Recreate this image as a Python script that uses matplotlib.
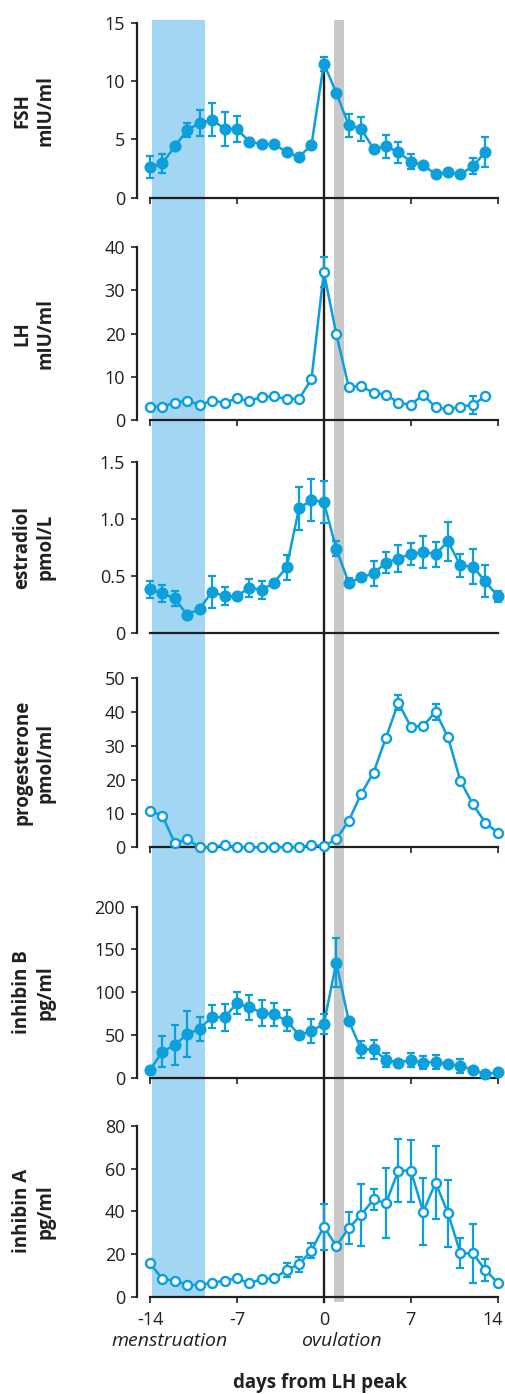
import matplotlib
matplotlib.use("Agg")
import matplotlib.pyplot as plt
import matplotlib.transforms as mtransforms

plt.rcParams['font.family'] = ['Open Sans', 'DejaVu Sans']

# jours depuis le pic de LH
days28 = list(range(-14, 14))
days29 = list(range(-14, 15))

fsh = [2.6, 2.95, 4.4, 5.8, 6.4, 6.7, 5.9, 5.9, 4.8, 4.6, 4.6, 3.9, 3.5, 4.5,
       11.5, 9.0, 6.2, 5.9, 4.2, 4.4, 3.9, 3.1, 2.8, 2.0, 2.2, 2.0, 2.7, 3.9]
fsh_err = [0.95, 0.8, 0, 0.6, 1.1, 1.45, 1.45, 1.1, 0.3, 0, 0, 0, 0, 0,
           0.6, 0, 1.0, 1.0, 0, 1.0, 0.9, 0.65, 0, 0, 0, 0, 0.7, 1.3]

lh = [3.1, 3.1, 4.0, 4.5, 3.5, 4.5, 4.0, 5.0, 4.4, 5.4, 5.5, 4.9, 4.9, 9.4,
      34.3, 19.9, 7.7, 7.8, 6.3, 5.9, 4.0, 3.5, 5.9, 2.9, 2.5, 3.1, 3.5, 5.5]
lh_err = [0, 0, 0, 0, 0, 0, 0, 0, 0, 0, 0, 0, 0, 0,
          3.4, 0, 0, 0, 0, 0, 0, 0, 0, 0, 0, 0, 2.0, 0]

e2 = [0.38, 0.345, 0.30, 0.155, 0.21, 0.36, 0.32, 0.32, 0.395, 0.375, 0.44,
      0.575, 1.09, 1.165, 1.145, 0.735, 0.44, 0.485, 0.52, 0.615, 0.65, 0.69,
      0.71, 0.69, 0.80, 0.59, 0.58, 0.45, 0.32]
e2_err = [0.075, 0.075, 0.07, 0, 0, 0.14, 0.08, 0, 0.08, 0.08, 0,
          0.11, 0.185, 0.185, 0.185, 0.065, 0.04, 0, 0.11, 0.09, 0.12, 0.1,
          0.14, 0.11, 0.175, 0.1, 0.15, 0.14, 0.05]

prog = [10.8, 9.3, 1.2, 2.4, 0.0, 0.0, 0.7, 0.0, 0.0, 0.0, 0.0, 0.0, 0.0,
        0.7, 0.4, 2.4, 7.8, 15.8, 22.1, 32.4, 42.8, 35.7, 35.9, 40.1, 32.5,
        19.6, 12.7, 7.3, 4.3]
prog_err = [0, 0, 0, 0, 0, 0, 0, 0, 0, 0, 0, 0, 0,
            0, 0, 0, 0, 0, 0, 0, 2.2, 0, 0, 2.4, 0,
            0, 0, 0, 0]

inhb = [9.0, 30.4, 38.2, 51.1, 57.0, 71.4, 70.6, 87.0, 82.3, 76.0, 74.1, 66.7,
        50.0, 54.6, 62.8, 134.5, 66.7, 33.2, 33.2, 20.7, 17.6, 20.7, 17.6,
        18.7, 15.6, 14.0, 9.0, 4.3, 6.3]
inhb_err = [0, 18, 23, 27, 13.5, 13.6, 16, 13, 14.6, 15, 13.5, 12.5,
            0, 14.5, 11.7, 29, 0, 10, 11, 8, 0, 8, 8,
            8, 0, 8, 0, 0, 0]

inha = [15.6, 8.3, 7.5, 5.5, 5.5, 6.6, 7.5, 8.6, 6.3, 8.3, 8.6, 12.5, 15.2,
        21.6, 32.8, 23.8, 32.1, 38.3, 45.6, 43.8, 59.1, 59.1, 39.8, 53.4, 39.1,
        20.3, 20.3, 12.5, 6.6]
inha_err = [0, 0, 0, 0, 0, 0, 0, 0, 0, 0, 0, 3.4, 3.6,
            3.6, 10.7, 0, 7.5, 14.7, 4.9, 16.5, 14.8, 14.5, 15.7, 17, 15.6,
            7, 13.7, 5.3, 0]

labels = ['FSH\nmIU/ml', 'LH\nmIU/ml', 'estradiol\npmol/L',
          'progesterone\npmol/ml', 'inhibin B\npg/ml', 'inhibin A\npg/ml']
yticks = [[0, 5, 10, 15], [0, 10, 20, 30, 40], [0, 0.5, 1.0, 1.5],
          [0, 10, 20, 30, 40, 50], [0, 50, 100, 150, 200], [0, 20, 40, 60, 80]]
yticklabels = [['0', '5', '10', '15'], None, ['0', '0.5', '1.0', '1.5'],
               None, None, None]
xticks = [-14, -7, 0, 7, 14]

menses = (-13.8, -9.6)
ovul = (0.8, 1.65)

blue = '#0b9fdc'
dark = '#231f20'

W, H = 505, 1394
fig = plt.figure(figsize=(W / 100, H / 100), dpi=100)

# position des panneaux en pixels (haut, bas de l'axe y)
tops = [22.7, 247.3, 461.7, 678.3, 906.7, 1126]
bottoms = [197.7, 420, 632.7, 847.3, 1077.7, 1296.7]
x_left_px, x0_px, ppd = 137, 150, 12.418
xmin = -14 - (x0_px - x_left_px) / ppd
xmax = -14 + (W - x0_px) / ppd

# fond : bandes menstruation / ovulation et ligne du pic
bg = fig.add_axes([0, 0, 1, 1])
bg.set_xlim(-14 - x0_px / ppd, xmax)
bg.set_ylim(0, 1)
bg.axis('off')
bg.axvspan(*menses, ymin=1 - 1298 / H, ymax=1 - 20 / H, color='#a3d6f2', lw=0)
bg.axvspan(*ovul, ymin=1 - 1302 / H, ymax=1 - 20 / H, color='#c8c8c8', lw=0)
bg.axvline(0, ymin=1 - 1302 / H, ymax=1 - 66 / H, color=dark, lw=1.7)

series = [(days28, fsh, fsh_err, True), (days28, lh, lh_err, False),
          (days29, e2, e2_err, True), (days29, prog, prog_err, False),
          (days29, inhb, inhb_err, True), (days29, inha, inha_err, False)]

for i, (x, y, err, filled) in enumerate(series):
    t, b = tops[i], bottoms[i]
    ax = fig.add_axes([x_left_px / W, 1 - b / H, (W - x_left_px) / W, (b - t) / H])
    ax.set_facecolor('none')
    ax.set_xlim(xmin, xmax)
    ax.set_ylim(0, yticks[i][-1])
    for s in ['top', 'right']:
        ax.spines[s].set_visible(False)
    ax.spines['left'].set_bounds(0, yticks[i][-1])
    ax.spines['bottom'].set_bounds(-14, 14)
    for s in ['left', 'bottom']:
        ax.spines[s].set_linewidth(1.6)
        ax.spines[s].set_color(dark)

    ax.set_yticks(yticks[i])
    if yticklabels[i] is not None:
        ax.set_yticklabels(yticklabels[i])
    ax.tick_params(axis='y', direction='out', length=4, width=1.2,
                   colors=dark, labelsize=13, pad=4.5)
    if i == 2:
        ax.set_xticks([])
    else:
        ax.set_xticks(xticks)
    ax.tick_params(axis='x', direction='out', length=4, width=1.2,
                   colors=dark, labelsize=13, pad=6)
    if i < 5:
        ax.set_xticklabels([])
    else:
        ax.set_xticklabels(['-14', '-7', '0', '7', '14'])
        # "14" poussé un peu à gauche pour rester dans l'image
        last = ax.get_xticklabels()[-1]
        last.set_transform(last.get_transform() +
                           mtransforms.ScaledTranslation(-0.05, 0, fig.dpi_scale_trans))

    xe = [xx for xx, e in zip(x, err) if e > 0]
    ye = [yy for yy, e in zip(y, err) if e > 0]
    ee = [e for e in err if e > 0]
    ax.errorbar(xe, ye, yerr=ee, fmt='none', ecolor=blue, elinewidth=1.6,
                capsize=3, capthick=1.6, zorder=2, clip_on=False)
    ax.plot(x, y, color=blue, lw=1.8, marker='o', ms=7 if filled else 6.5,
            mfc=blue if filled else 'white', mec=blue, mew=1.7,
            zorder=3, clip_on=False)

    fig.text(34 / W, 1 - (t + b) / 2 / H, labels[i], rotation=90,
             ha='center', va='center', ma='center', fontweight='bold',
             fontsize=13.5, color=dark, linespacing=1.2)

    if i == 5:
        ax.text(-12.4, -0.26, 'menstruation', transform=ax.get_xaxis_transform(),
                ha='center', va='center', style='italic', fontsize=14, color=dark)
        ax.text(1.4, -0.26, 'ovulation', transform=ax.get_xaxis_transform(),
                ha='center', va='center', style='italic', fontsize=14, color=dark)

fig.text(320 / W, 1 - 1383 / H, 'days from LH peak', ha='center', va='center',
         fontweight='bold', fontsize=13.5, color=dark)

fig.savefig('out.png', dpi=100)
